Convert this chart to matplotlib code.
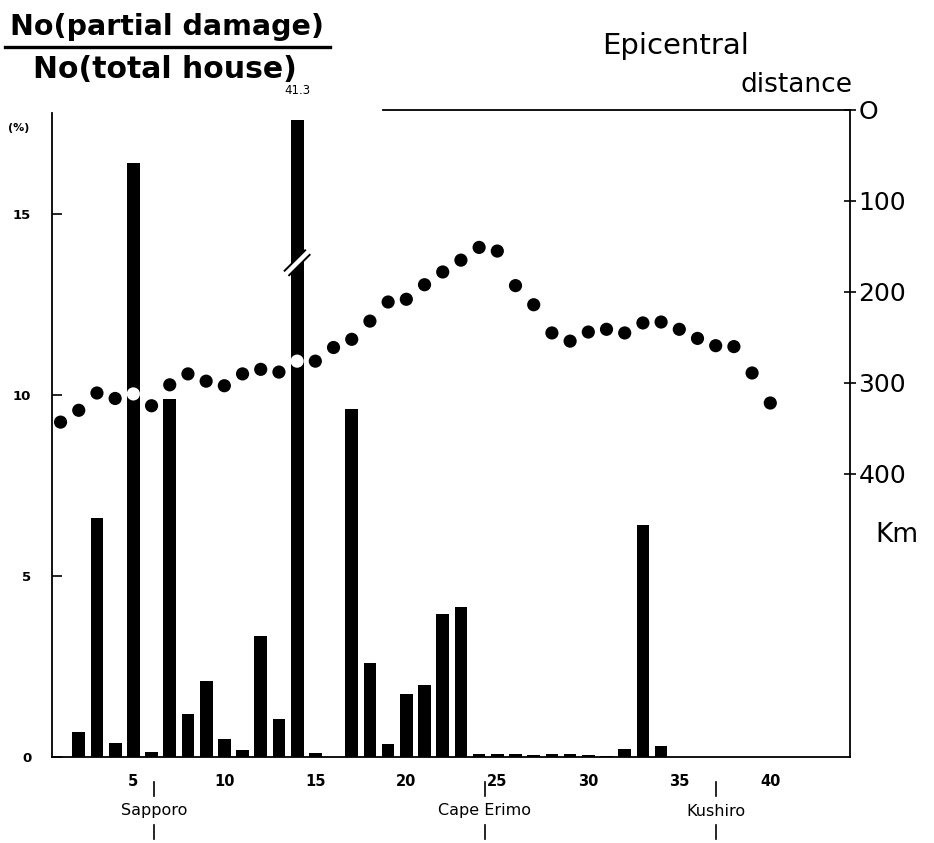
import matplotlib
matplotlib.use("Agg")
import matplotlib.pyplot as plt
from matplotlib.lines import Line2D
import matplotlib.transforms as mtransforms
import numpy as np

# ---------------- data ----------------
bar_positions = [2, 3, 4, 5, 6, 7, 8, 9, 10, 11, 12, 13, 14, 15, 17, 18, 19, 20,
                 21, 22, 23, 24, 25, 26, 27, 28, 29, 30, 31, 32, 33, 34]
bar_values = [0.7, 6.6, 0.4, 16.4, 0.15, 9.9, 1.2, 2.1, 0.5, 0.2, 3.35, 1.05,
              41.3, 0.1, 9.6, 2.6, 0.35, 1.75, 2.0, 3.95, 4.15, 0.08, 0.08,
              0.07, 0.05, 0.07, 0.07, 0.05, 0.04, 0.22, 6.4, 0.3]

dot_positions = list(range(1, 41))
epicentral_km = [343, 330, 311, 317, 312, 325, 302, 290, 298, 303,
                 290, 285, 288, 276, 276, 261, 252, 232, 211, 208,
                 192, 178, 165, 151, 155, 193, 214, 245, 254, 244,
                 241, 245, 234, 233, 241, 251, 259, 260, 289, 322]

x_ticks = [5, 10, 15, 20, 25, 30, 35, 40]
left_ticks = [0, 5, 10, 15]
right_ticks = [0, 100, 200, 300, 400]
right_tick_labels = ["O", "100", "200", "300", "400"]

place_names = ["Sapporo", "Cape Erimo", "Kushiro"]
place_positions = [6.15, 24.3, 37.0]

# ---------------- figure ----------------
W, H = 934, 843
fig = plt.figure(figsize=(W / 100, H / 100), dpi=100)
fig.patch.set_facecolor("white")

ax = fig.add_axes([52 / W, (H - 757) / H, 798 / W, 647 / H])
XMIN, XMAX = 0.53, 44.38
YMAX = 17.87
ax.set_xlim(XMIN, XMAX)
ax.set_ylim(0, YMAX)

cap = 17.58  # display cap for the broken (off-scale) bar
heights = [min(v, cap) for v in bar_values]
ax.bar(bar_positions, heights, width=0.7, color="black", zorder=2)

# broken bar marker and its value label
for p, v in zip(bar_positions, bar_values):
    if v > YMAX:
        ax.plot([p - 0.6, p + 0.6], [13.35, 13.95], color="black", lw=6,
                solid_capstyle="butt", zorder=3)
        ax.plot([p - 0.7, p + 0.7], [13.3, 14.0], color="white", lw=3.2,
                solid_capstyle="butt", zorder=4)
        ax.text(p, YMAX + 0.35, f"{v}", ha="center", va="bottom",
                fontsize=8.5, clip_on=False)

# spines
for s in ["left", "right", "bottom", "top"]:
    ax.spines[s].set_linewidth(1.3)
ax.spines["left"].set_bounds(0, 17.79)
ax.spines["top"].set_bounds(18.72, XMAX)
ax.spines["right"].set_visible(False)

ax.set_yticks(left_ticks)
ax.set_yticklabels([str(t) for t in left_ticks], fontsize=9.5, fontweight="bold")
ax.tick_params(axis="y", direction="in", length=7, width=1.2, pad=15)
ax.set_xticks(x_ticks)
ax.set_xticklabels([str(t) for t in x_ticks], fontsize=10.5, fontweight="bold")
ax.tick_params(axis="x", length=0, pad=12)

# ---------------- epicentral distance (right axis) ----------------
ax2 = ax.twinx()
ax2.set_xlim(XMIN, XMAX)
ax2.set_ylim(711, 0)
for s in ["left", "top", "bottom"]:
    ax2.spines[s].set_visible(False)
ax2.spines["right"].set_linewidth(1.3)
ax2.set_yticks(right_ticks)
ax2.set_yticklabels(right_tick_labels, fontsize=18)
ax2.tick_params(axis="y", direction="inout", length=8, width=1.2, pad=2)

# dots: white where they sit on a bar, black elsewhere
bar_dict = dict(zip(bar_positions, heights))
colors = []
for p, d in zip(dot_positions, epicentral_km):
    y_disp = ax2.transData.transform((p, d))[1]
    h = bar_dict.get(p, 0)
    top_disp = ax.transData.transform((p, h))[1]
    colors.append("white" if top_disp > y_disp + 5 else "black")
ax2.scatter(dot_positions, epicentral_km, s=90, c=colors, edgecolors="none",
            zorder=5)

# place markers below the axis
trans = mtransforms.blended_transform_factory(ax.transData, fig.transFigure)
for name, pos in zip(place_names, place_positions):
    ax.plot([pos, pos], [(H - 782) / H, (H - 796) / H], color="black", lw=1.2,
            transform=trans, clip_on=False)
    ax.text(pos, (H - 811) / H, name, ha="center", va="center", fontsize=11.5,
            transform=trans)
    ax.plot([pos, pos], [(H - 825) / H, (H - 839) / H], color="black", lw=1.2,
            transform=trans, clip_on=False)

# ---------------- titles ----------------
fig.text(167 / W, 1 - 27 / H, "No(partial damage)", ha="center", va="center",
         fontsize=20.5, fontweight="bold")
fig.add_artist(Line2D([5 / W, 330 / W], [1 - 47 / H, 1 - 47 / H],
                      color="black", lw=2.4))
fig.text(165 / W, 1 - 69 / H, "No(total house)", ha="center", va="center",
         fontsize=21.5, fontweight="bold")
fig.text(602 / W, 1 - 46 / H, "Epicentral", ha="left", va="center", fontsize=21)
fig.text(852 / W, 1 - 85 / H, "distance", ha="right", va="center", fontsize=19)
fig.text(8 / W, 1 - 128 / H, "(%)", ha="left", va="center", fontsize=8,
         fontweight="bold")
fig.text(897 / W, 1 - 535 / H, "Km", ha="center", va="center", fontsize=19)

fig.savefig("out.png", dpi=100, facecolor="white")
